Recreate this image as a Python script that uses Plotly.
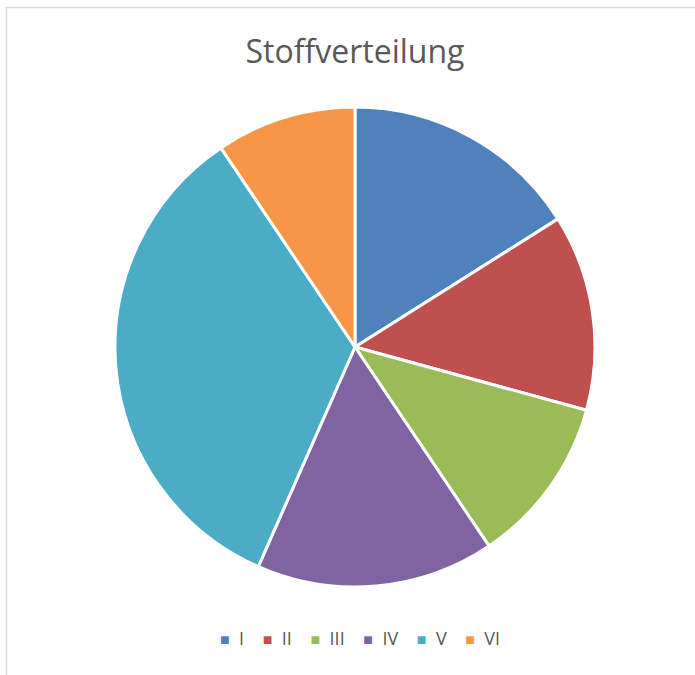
import plotly.graph_objects as go

categories = ["I", "II", "III", "IV", "V", "VI"]
values = [17, 14, 12, 17, 36, 10]
colors = ["#4F81BD", "#C0504D", "#9BBB59", "#8064A2", "#4BACC6", "#F79646"]
title_text = "Stoffverteilung"

W, H = 695, 675
cx, cy, r = 355, 347, 240

fig = go.Figure(go.Pie(
    labels=categories,
    values=values,
    sort=False,
    direction="clockwise",
    rotation=0,
    marker=dict(colors=colors, line=dict(color="white", width=3)),
    textinfo="none",
    hoverinfo="label+value",
    showlegend=False,
    domain=dict(x=[(cx - r) / W, (cx + r) / W], y=[1 - (cy + r) / H, 1 - (cy - r) / H]),
))

# compact legend built from the category/colour arrays
NB = "\u00a0"
parts = []
for cat, col in zip(categories, colors):
    parts.append(f'<span style="color:{col};font-size:16px">■</span>{NB}{NB}{cat}')
legend_text = (NB * 4).join(parts)

fig.update_layout(
    width=W, height=H,
    margin=dict(l=0, r=0, t=0, b=0),
    paper_bgcolor="white",
    title=dict(text=title_text, x=355 / W, xanchor="center", y=1 - 52 / H, yanchor="middle",
               font=dict(family="Open Sans", size=32, color="#595959")),
    annotations=[dict(text=legend_text, xref="paper", yref="paper", x=360 / W, y=1 - 638 / H,
                      xanchor="center", yanchor="middle", showarrow=False,
                      font=dict(family="Open Sans", size=18, color="#595959"))],
    shapes=[dict(type="rect", xref="paper", yref="paper", x0=6.5 / W, x1=1.02, y0=-0.02, y1=1 - 7.5 / H,
                 line=dict(color="#D9D9D9", width=1.5), fillcolor="rgba(0,0,0,0)")],
)

fig.write_html("out.html", config={"displayModeBar": False},
               post_script="document.body.style.margin='0';document.body.style.overflow='hidden';")
